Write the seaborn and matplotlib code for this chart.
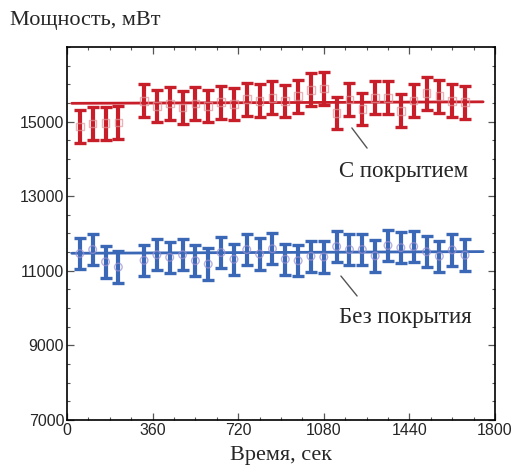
import matplotlib
matplotlib.use("Agg")
import matplotlib.pyplot as plt
from matplotlib.ticker import MultipleLocator
import numpy as np
import pandas as pd
import seaborn as sns

# время измерения, сек
time_s = [54, 108, 162, 216, 324, 378, 432, 486, 540, 594, 648, 702, 756, 810, 864,
          918, 972, 1026, 1080, 1134, 1188, 1242, 1296, 1350, 1404, 1458, 1512, 1566, 1620, 1674]

# мощность с покрытием, мВт
power_coated = [14870, 14950, 14960, 14980, 15560, 15420, 15490, 15380, 15480, 15420,
                15520, 15470, 15600, 15560, 15640, 15550, 15680, 15850, 15890, 15230,
                15590, 15340, 15640, 15640, 15290, 15570, 15760, 15680, 15560, 15520]
err_coated = 440

# мощность без покрытия, мВт
power_bare = [11460, 11570, 11240, 11100, 11280, 11430, 11360, 11430, 11270, 11180,
              11490, 11310, 11570, 11450, 11590, 11310, 11270, 11390, 11370, 11650,
              11570, 11570, 11400, 11680, 11620, 11650, 11510, 11390, 11560, 11420]
err_bare = 420

# линии аппроксимации
fit_x = [20, 1750]
fit_coated = [15490, 15530]
fit_bare = [11470, 11515]

RED = "#c81e2a"
BLUE = "#3b68b6"

sns.set_theme(style="ticks")
plt.rcParams["font.family"] = ["Liberation Serif", "DejaVu Serif"]

fig = plt.figure(figsize=(5.17, 4.73), dpi=100)
ax = fig.add_axes([67 / 517, 1 - 420 / 473, (495 - 67) / 517, (420 - 47) / 473])

df = pd.DataFrame({"t": time_s, "coated": power_coated, "bare": power_bare})
fits = pd.DataFrame({"t": fit_x, "coated": fit_coated, "bare": fit_bare})

# error bars
ax.errorbar(df["t"], df["coated"], yerr=err_coated, fmt="none", ecolor=RED,
            elinewidth=3, capsize=4, capthick=2.4, zorder=3)
ax.errorbar(df["t"], df["bare"], yerr=err_bare, fmt="none", ecolor=BLUE,
            elinewidth=3, capsize=4, capthick=2.4, zorder=3)

# markers
sns.scatterplot(data=df, x="t", y="coated", marker="s", s=30, facecolor="none",
                edgecolor="#e0959a", linewidth=1.0, alpha=0.7, ax=ax, zorder=4)
sns.scatterplot(data=df, x="t", y="bare", marker="o", s=30, facecolor="none",
                edgecolor="#9a90d2", linewidth=1.0, alpha=0.7, ax=ax, zorder=4)

# fit lines
sns.lineplot(data=fits, x="t", y="coated", color=RED, linewidth=2, ax=ax, zorder=2)
sns.lineplot(data=fits, x="t", y="bare", color=BLUE, linewidth=2, ax=ax, zorder=2)

ax.set_xlim(0, 1800)
ax.set_ylim(7000, 17000)
ax.xaxis.set_major_locator(MultipleLocator(360))
ax.xaxis.set_minor_locator(MultipleLocator(90))
ax.set_yticks([7000, 9000, 11000, 13000, 15000])
ax.yaxis.set_minor_locator(MultipleLocator(500))
ax.tick_params(which="both", direction="in", top=True, right=True, color="#555555",
               labelsize=11.5, pad=2)
ax.tick_params(which="major", length=5, width=0.9)
ax.tick_params(which="minor", length=2.5, width=0.8)
for lab in ax.get_xticklabels() + ax.get_yticklabels():
    lab.set_family(["Liberation Sans Narrow", "Liberation Sans", "DejaVu Sans"])
for sp in ax.spines.values():
    sp.set_color("black")
    sp.set_linewidth(1.2)

ax.set_xlabel("Время, сек", fontsize=16, labelpad=6)
ax.set_ylabel("")
fig.text(10 / 517, 1 - 20 / 473, "Мощность, мВт", fontsize=16, ha="left", va="center")

# подписи серий
ax.plot([1198, 1262], [14830, 14290], color="#555555", lw=1)
ax.text(1417, 13650, "С покрытием", fontsize=16.5, ha="center", va="center")
ax.plot([1152, 1220], [10860, 10325], color="#555555", lw=1)
ax.text(1421, 9735, "Без покрытия", fontsize=16.5, ha="center", va="center")

fig.savefig("out.png", dpi=100)
